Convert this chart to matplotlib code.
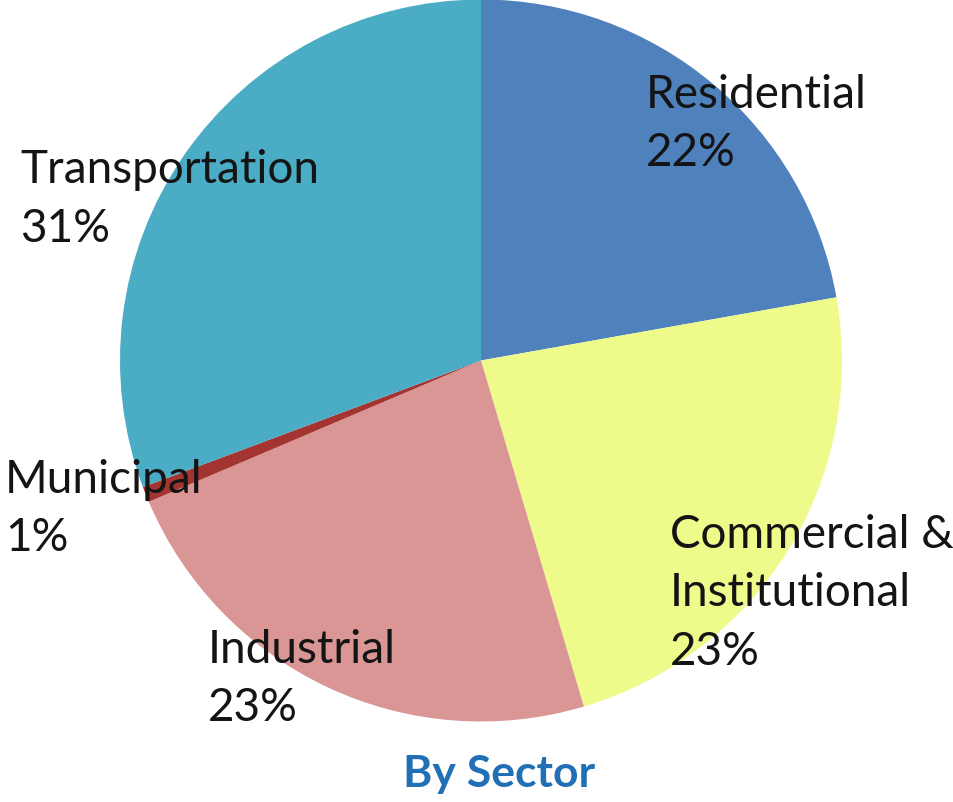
import matplotlib
matplotlib.use("Agg")
import matplotlib.pyplot as plt

# sector shares (percent), clockwise from 12 o'clock
sectors = ["Residential", "Commercial &\nInstitutional", "Industrial", "Municipal", "Transportation"]
shares = [22.2, 23.2, 23.2, 0.7, 30.7]
shown_pct = ["22%", "23%", "23%", "1%", "31%"]
colors = ["#4F81BD", "#EEFA8A", "#D99694", "#A3342F", "#4BACC6"]

W, H = 954, 803
fig = plt.figure(figsize=(W / 100, H / 100), dpi=100)
plt.rcParams['font.family'] = ['Lato', 'DejaVu Sans']

cx, cy, r = 481, 361.5, 361
ax = fig.add_axes([(cx - r) / W, (H - cy - r) / H, 2 * r / W, 2 * r / H])
ax.pie(shares, colors=colors, startangle=90, counterclock=False,
       wedgeprops=dict(linewidth=0))
ax.set_xlim(-1, 1)
ax.set_ylim(-1, 1)
ax.axis("off")

# label anchors: left edge and baseline of first line, in pixels
label_pos = [(646, 108), (670, 548), (208, 663), (5, 493), (20, 183)]
line_step = 58.5
for name, pct, (x, y) in zip(sectors, shown_pct, label_pos):
    lines = name.split("\n") + [pct]
    for k, line in enumerate(lines):
        fig.text(x / W, 1 - (y + k * line_step) / H, line, ha="left",
                 va="baseline", fontsize=33, color="#141414")

fig.text(499 / W, 1 - 787 / H, "By Sector", ha="center", va="baseline",
         fontsize=32, fontweight="bold", color="#2170B5")

fig.savefig("out.png", dpi=100)
